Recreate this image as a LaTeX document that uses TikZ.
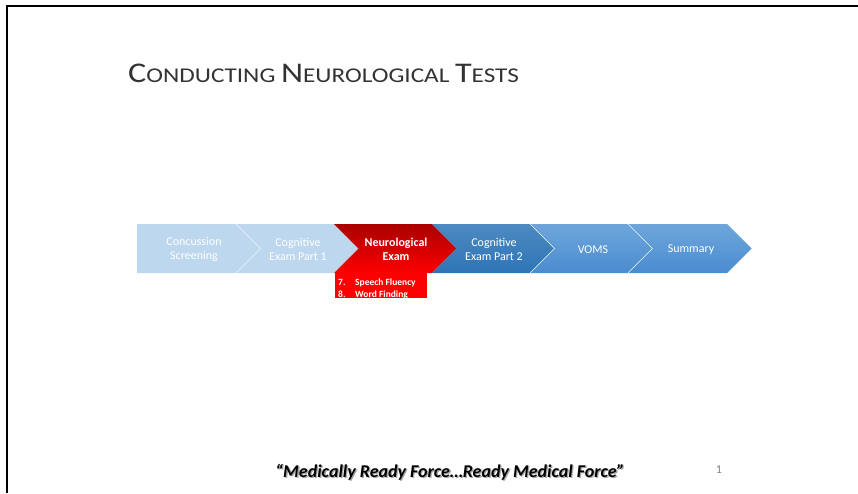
\documentclass[tikz,border=0pt]{standalone}
\usepackage{fontspec}
\setmainfont{Carlito}
\newfontfamily\titlefont[FakeStretch=1.2]{Carlito}
\definecolor{paleblue}{HTML}{BDD7EE}
\definecolor{midblue}{HTML}{2E75B6}
\definecolor{skytop}{HTML}{6EA6DB}
\definecolor{skybot}{HTML}{4A8CCF}
\definecolor{redtop}{HTML}{A80000}
\definecolor{redbot}{HTML}{FF0000}
\tikzset{
  steptext/.style={align=center, text=white, font=\fontsize{12}{14}\selectfont},
  edge/.style={draw=white!70!paleblue, line width=0.4pt}
}
\begin{document}
\begin{tikzpicture}[x=1pt, y=-1pt]
\useasboundingbox (0,0) rectangle (858,493);
% Cadre
\draw[line width=2pt] (6.5,493) -- (6.5,6) -- (858,6);
% Titre
\node[anchor=base west, inner sep=0, text=black!80, font=\titlefont] (title) at (128,82)
  {\fontsize{28.5}{30}\selectfont C\fontsize{21}{22}\selectfont ONDUCTING
   \fontsize{28.5}{30}\selectfont N\fontsize{21}{22}\selectfont EUROLOGICAL
   \fontsize{28.5}{30}\selectfont T\fontsize{21}{22}\selectfont ESTS};
% Etapes
\fill[paleblue] (137,224) -- (236,224) -- (260.5,248.5) -- (236,273) -- (137,273) -- cycle;
\fill[paleblue] (236,224) -- (334,224) -- (358.5,248.5) -- (334,273) -- (236,273) -- (260.5,248.5) -- cycle;
\draw[edge] (236,224) -- (260.5,248.5) -- (236,273);
\shade[top color=redtop, bottom color=redbot] (334,224) -- (432,224) -- (456.5,248.5) -- (432,273) -- (334,273) -- (358.5,248.5) -- cycle;
\shade[top color=midblue!85!white, bottom color=midblue] (432,224) -- (530,224) -- (554.5,248.5) -- (530,273) -- (432,273) -- (456.5,248.5) -- cycle;
\shade[top color=skytop, bottom color=skybot] (530,224) -- (628,224) -- (652.5,248.5) -- (628,273) -- (530,273) -- (554.5,248.5) -- cycle;
\shade[top color=skytop, bottom color=skybot] (628,224) -- (727,224) -- (751.5,248.5) -- (727,273) -- (628,273) -- (652.5,248.5) -- cycle;
\draw[edge] (530,224) -- (554.5,248.5) -- (530,273);
\draw[edge] (628,224) -- (652.5,248.5) -- (628,273);
% Textes des etapes
\node[steptext] (screen) at (194,249.5) {Concussion\\Screening};
\node[steptext] (cogone) at (298,249.5) {Cognitive\\Exam Part 1};
\node[steptext, font=\bfseries\fontsize{12}{14}\selectfont] (neuro) at (396,249.5) {Neurological\\Exam};
\node[steptext] (cogtwo) at (494,249.5) {Cognitive\\Exam Part 2};
\node[steptext] (voms) at (593,249.5) {VOMS};
\node[steptext] (summary) at (691,249.5) {Summary};
% Sous-points
\fill[redbot] (335,273) rectangle (427,298);
\node[anchor=north west, inner sep=0, text=white, font=\bfseries\fontsize{9.5}{11.8}\selectfont, align=left] (items) at (338,278.5)
  {\makebox[17pt][l]{7.}Speech Fluency\\\makebox[17pt][l]{8.}Word Finding};
% Devise
\node[text=black!35, font=\bfseries\itshape\fontsize{18}{21}\selectfont] at (451.3,473.2)
  {“Medically Ready Force…Ready Medical Force”};
\node[font=\bfseries\itshape\fontsize{18}{21}\selectfont] (motto) at (450,472)
  {“Medically Ready Force…Ready Medical Force”};
\node[text=black!50, font=\fontsize{12}{14}\selectfont] (pagenum) at (719,470) {1};
\end{tikzpicture}
\end{document}
